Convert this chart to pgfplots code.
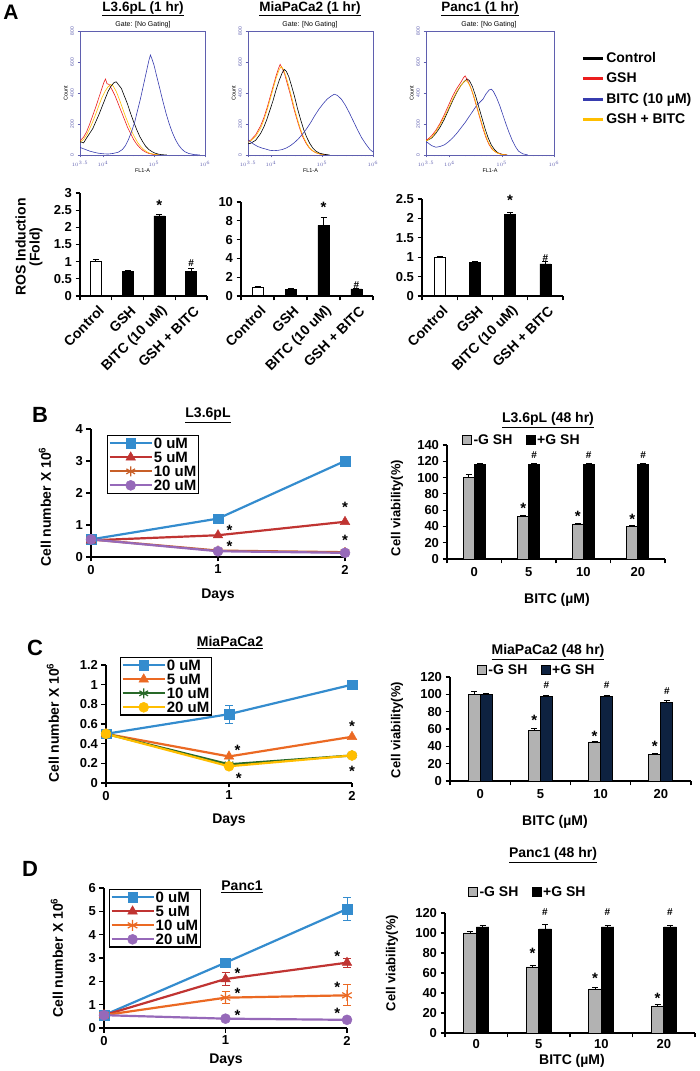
\documentclass[border=0pt]{standalone}
\usepackage{fontspec}
\setmainfont{Liberation Sans}
\usepackage{pgfplots}
\pgfplotsset{compat=1.18}

\definecolor{cblue}{RGB}{52,140,206}
\definecolor{cred}{RGB}{192,52,50}
\definecolor{corgB}{RGB}{200,95,40}
\definecolor{cpurp}{RGB}{150,105,185}
\definecolor{corgC}{RGB}{235,105,35}
\definecolor{cgreen}{RGB}{40,105,40}
\definecolor{cyel}{RGB}{255,190,0}
\definecolor{hblue}{RGB}{55,60,175}
\definecolor{hframe}{RGB}{95,95,175}
\definecolor{hred}{RGB}{235,30,30}
\definecolor{hyel}{RGB}{255,190,0}
\definecolor{navy}{RGB}{14,34,64}
\definecolor{lgray}{RGB}{178,178,178}

\newcommand{\fs}[1]{\fontsize{#1}{#1}\selectfont\bfseries}

\tikzset{
  sig/.style={font=\fs{15}, inner sep=0pt, yshift=-3pt},
  hsh/.style={font=\fs{10}, inner sep=0pt},
}

\pgfplotsset{
  exl/.style={scale only axis, anchor=south west, clip=false,
    axis x line*=bottom, axis y line*=left,
    axis line style={line width=1.6pt, black},
    tick style={black, line width=1.2pt},
    major tick length=4.5pt, tick align=outside,
    /pgf/number format/assume math mode=true,
    ticklabel style={font=\fs{13}}},
  catax/.style={exl, ybar, xmin=-0.5, xmax=3.5, xtick={-0.5,0.5,1.5,2.5,3.5}, xticklabels={},
    extra x ticks={0,1,2,3}, extra x tick style={major tick length=0pt}},
  errs/.style={/pgfplots/error bars/y dir=plus, /pgfplots/error bars/y explicit,
    /pgfplots/error bars/error bar style={line width=1pt, black},
    /pgfplots/error bars/error mark options={rotate=90, mark size=3pt, line width=1pt, black}},
  lerr/.style={/pgfplots/error bars/y dir=both, /pgfplots/error bars/y explicit,
    /pgfplots/error bars/error bar style={line width=1pt, draw=#1},
    /pgfplots/error bars/error mark options={rotate=90, mark size=4pt, line width=1pt, draw=#1}},
  lineleg/.style={legend image code/.code={\draw[mark repeat=2,mark phase=2,##1] plot coordinates {(0pt,0pt) (21pt,0pt) (42pt,0pt)};}},
  sqleg/.style={legend image code/.code={\draw[##1,line width=0.8pt] (0pt,-4.5pt) rectangle (9pt,4.5pt);}},
  hleg/.style={legend image code/.code={\draw[##1,line width=2.8pt] (0pt,0pt) -- (20pt,0pt);}},
  lstyle/.style={legend cell align=left, legend style={anchor=north west, draw=black, line width=1.2pt,
    font=\fs{15}, inner sep=1pt, row sep=0.5pt, nodes={inner sep=1pt, text height=10.5pt, text depth=1pt}}},
  bstyle/.style={legend columns=2, legend style={anchor=west, draw=none, fill=none, font=\fs{14},
    inner sep=0pt, nodes={inner sep=1.5pt}, /tikz/every even column/.append style={column sep=12pt}}},
  histax/.style={scale only axis, anchor=south west, height=124pt, xmin=3.55, xmax=6, ymin=0, ymax=800,
    axis line style={draw=hframe, line width=0.8pt}, tick style={draw=hframe, line width=0.5pt},
    major tick length=2.5pt, minor tick length=1.5pt, tick align=outside, tick pos=left,
    ytick={0,200,400,600,800}, yticklabel style={rotate=90, font=\fontsize{5}{5}\selectfont, text=hframe},
    xtick={3.55,4,5,6}, xticklabels={$10^{3.5}$,$10^{4}$,$10^{5}$,$10^{6}$},
    xticklabel style={font=\fontsize{5}{5}\selectfont, text=hframe},
    minor xtick={3.602,3.699,3.778,3.845,3.903,3.954,4.301,4.477,4.602,4.699,4.778,4.845,4.903,4.954,5.301,5.477,5.602,5.699,5.778,5.845,5.903,5.954},
    /pgf/number format/assume math mode=true,
    xlabel={FL1-A}, ylabel={Count}, label style={font=\fontsize{5.5}{5.5}\selectfont},
    xlabel style={yshift=4pt}, ylabel style={yshift=-4pt},
    every axis plot/.append style={line width=0.6pt}},
}

\begin{document}
\begin{tikzpicture}
\useasboundingbox (0pt,0pt) rectangle (700pt,1071pt);

% ================= PANEL A: histograms =================
\node[font=\fs{21}] at (11pt,1059pt) {A};
\node[font=\fs{13.5}] at (143pt,1062pt) {\underline{L3.6pL (1 hr)}};
\node[font=\fs{13.5}] at (310pt,1062pt) {\underline{MiaPaCa2 (1 hr)}};
\node[font=\fs{13.5}] at (480pt,1062pt) {\underline{Panc1 (1 hr)}};
\node[font=\fontsize{7}{7}\selectfont] at (143pt,1046pt) {Gate: [No Gating]};
\node[font=\fontsize{7}{7}\selectfont] at (310pt,1046pt) {Gate: [No Gating]};
\node[font=\fontsize{7}{7}\selectfont] at (489pt,1046pt) {Gate: [No Gating]};

\begin{axis}[histax, at={(80pt,916pt)}, width=125pt]
\addplot[hred] coordinates {(3.5,80)(3.56,95)(3.62,115)(3.68,150)(3.74,200)(3.8,255)(3.86,310)(3.92,370)(3.98,430)(4.02,470)(4.05,490)(4.08,460)(4.12,455)(4.18,420)(4.24,380)(4.3,330)(4.36,280)(4.42,230)(4.48,180)(4.54,140)(4.6,100)(4.66,70)(4.72,48)(4.78,30)(4.84,18)(4.9,10)(4.98,4)(5.1,0)};
\addplot[hyel] coordinates {(3.5,75)(3.56,85)(3.62,100)(3.68,130)(3.74,170)(3.8,215)(3.86,265)(3.92,320)(3.98,370)(4.04,410)(4.1,440)(4.15,455)(4.2,445)(4.26,410)(4.32,360)(4.38,305)(4.44,250)(4.5,200)(4.56,155)(4.62,115)(4.68,80)(4.74,55)(4.8,35)(4.86,20)(4.92,11)(5.0,5)(5.1,0)};
\addplot[black] coordinates {(3.5,70)(3.56,85)(3.62,78)(3.68,110)(3.74,140)(3.8,170)(3.86,215)(3.92,260)(3.98,310)(4.04,360)(4.1,410)(4.16,445)(4.22,468)(4.26,472)(4.3,455)(4.36,430)(4.42,380)(4.48,330)(4.54,270)(4.6,215)(4.66,165)(4.72,120)(4.78,85)(4.84,55)(4.9,35)(4.96,22)(5.02,12)(5.08,6)(5.15,2)(5.25,0)};
\addplot[hblue] coordinates {(3.5,60)(3.58,45)(3.66,35)(3.74,25)(3.82,18)(3.9,12)(4.0,8)(4.1,6)(4.2,10)(4.3,18)(4.38,35)(4.44,60)(4.5,100)(4.56,150)(4.62,210)(4.68,290)(4.74,370)(4.8,460)(4.86,550)(4.9,610)(4.93,645)(4.96,620)(5.0,580)(5.06,500)(5.12,420)(5.18,340)(5.24,265)(5.3,200)(5.36,145)(5.42,100)(5.48,65)(5.54,40)(5.6,22)(5.68,10)(5.78,3)(5.9,0)};
\end{axis}

\begin{axis}[histax, at={(248pt,916pt)}, width=125pt]
\addplot[hred] coordinates {(3.5,85)(3.6,95)(3.7,130)(3.8,190)(3.86,240)(3.92,300)(3.98,370)(4.04,440)(4.1,510)(4.15,560)(4.18,585)(4.22,560)(4.27,520)(4.32,460)(4.38,390)(4.44,310)(4.5,240)(4.56,175)(4.62,120)(4.68,80)(4.74,50)(4.8,30)(4.88,14)(4.98,5)(5.1,0)};
\addplot[hyel] coordinates {(3.5,75)(3.6,90)(3.7,120)(3.8,175)(3.86,225)(3.92,285)(3.98,355)(4.04,425)(4.1,495)(4.16,550)(4.2,570)(4.24,555)(4.29,510)(4.34,455)(4.4,380)(4.46,300)(4.52,230)(4.58,165)(4.64,115)(4.7,75)(4.76,45)(4.84,22)(4.94,8)(5.05,0)};
\addplot[black] coordinates {(3.5,70)(3.6,75)(3.7,95)(3.8,140)(3.86,180)(3.92,230)(3.98,290)(4.04,350)(4.1,420)(4.16,480)(4.22,530)(4.26,552)(4.3,540)(4.35,505)(4.4,450)(4.46,380)(4.52,300)(4.58,230)(4.64,165)(4.7,115)(4.76,75)(4.82,45)(4.88,25)(4.95,12)(5.05,4)(5.15,0)};
\addplot[hblue] coordinates {(3.5,110)(3.58,90)(3.66,70)(3.74,55)(3.82,45)(3.9,38)(3.98,30)(4.06,28)(4.14,30)(4.22,35)(4.3,45)(4.38,60)(4.46,80)(4.54,105)(4.62,135)(4.7,170)(4.78,210)(4.86,255)(4.94,295)(5.02,330)(5.1,360)(5.18,380)(5.24,392)(5.3,385)(5.38,360)(5.46,320)(5.54,270)(5.62,215)(5.7,160)(5.78,110)(5.86,70)(5.94,35)(6.0,20)};
\end{axis}

\begin{axis}[histax, at={(426pt,916pt)}, width=128pt,
  legend style={at={(1.19,0.86)}, anchor=north west, draw=none, fill=none, font=\fs{14},
    row sep=5pt, nodes={inner sep=2pt}}, legend cell align=left]
\addplot[black, hleg] coordinates {(3.5,90)(3.58,95)(3.66,110)(3.74,140)(3.82,180)(3.9,230)(3.98,290)(4.06,350)(4.14,405)(4.22,450)(4.3,480)(4.34,490)(4.38,480)(4.44,440)(4.5,380)(4.56,310)(4.62,240)(4.68,170)(4.74,110)(4.8,65)(4.86,35)(4.92,15)(5.0,5)(5.1,0)};
\addlegendentry{Control}
\addplot[hred, hleg] coordinates {(3.5,95)(3.58,100)(3.66,125)(3.74,160)(3.82,205)(3.9,260)(3.98,320)(4.06,380)(4.14,430)(4.22,470)(4.27,500)(4.3,510)(4.34,485)(4.4,440)(4.46,380)(4.52,310)(4.58,240)(4.64,170)(4.7,110)(4.76,65)(4.82,35)(4.9,15)(5.0,4)(5.1,0)};
\addlegendentry{GSH}
\addplot[hblue, hleg] coordinates {(3.5,95)(3.58,80)(3.66,60)(3.74,50)(3.82,55)(3.9,65)(3.98,85)(4.06,110)(4.14,140)(4.22,175)(4.3,210)(4.38,250)(4.46,290)(4.52,320)(4.58,340)(4.64,360)(4.7,395)(4.76,420)(4.8,425)(4.84,410)(4.9,370)(4.96,320)(5.02,260)(5.08,200)(5.14,145)(5.2,95)(5.26,55)(5.32,25)(5.4,8)(5.5,0)};
\addlegendentry{BITC (10 µM)}
\addplot[hyel, hleg] coordinates {(3.5,85)(3.58,95)(3.66,115)(3.74,150)(3.82,195)(3.9,245)(3.98,300)(4.06,360)(4.14,410)(4.22,450)(4.28,475)(4.32,480)(4.36,465)(4.42,425)(4.48,365)(4.54,295)(4.6,225)(4.66,160)(4.72,100)(4.78,60)(4.84,30)(4.92,12)(5.0,3)(5.1,0)};
\addlegendentry{GSH + BITC}
\end{axis}

% ================= PANEL A: bar charts =================
\node[font=\fs{14}, rotate=90, align=center] at (29pt,824pt) {ROS Induction\\(Fold)};

\begin{axis}[catax, at={(80pt,775pt)}, width=127pt, height=103pt, ymin=0, ymax=3, ytick={0,0.5,...,3},
  bar width=11pt, extra x tick labels={Control,GSH,BITC (10 uM),GSH + BITC},
  extra x tick style={xticklabel style={xshift=8pt, yshift=-10pt, rotate=45, anchor=east, font=\fs{14}}}]
\addplot[bar shift=0pt, fill=white, draw=black, line width=1pt, errs] coordinates {(0,1.0)+-(0,0.05)};
\addplot[bar shift=0pt, fill=black, draw=black, errs] coordinates {(1,0.72)+-(0,0.02) (2,2.33)+-(0,0.05) (3,0.72)+-(0,0.07)};
\node[sig] at (axis cs:2,2.74) {*};
\node[hsh] at (axis cs:3,0.95) {\#};
\end{axis}

\begin{axis}[catax, at={(241pt,775pt)}, width=132pt, height=94pt, ymin=0, ymax=10, ytick={0,2,...,10},
  bar width=11pt, extra x tick labels={Control,GSH,BITC (10 uM),GSH + BITC},
  extra x tick style={xticklabel style={xshift=8pt, yshift=-10pt, rotate=45, anchor=east, font=\fs{14}}}]
\addplot[bar shift=0pt, fill=white, draw=black, line width=1pt, errs] coordinates {(0,0.95)+-(0,0.05)};
\addplot[bar shift=0pt, fill=black, draw=black, errs] coordinates {(1,0.72)+-(0,0.05) (2,7.5)+-(0,0.9) (3,0.75)+-(0,0.1)};
\node[sig] at (axis cs:2,9.8) {*};
\node[hsh] at (axis cs:3,1.2) {\#};
\end{axis}

\begin{axis}[catax, at={(422pt,775pt)}, width=141pt, height=97pt, ymin=0, ymax=2.5, ytick={0,0.5,...,2.5},
  bar width=11pt, extra x tick labels={Control,GSH,BITC (10 uM),GSH + BITC},
  extra x tick style={xticklabel style={xshift=8pt, yshift=-10pt, rotate=45, anchor=east, font=\fs{14}}}]
\addplot[bar shift=0pt, fill=white, draw=black, line width=1pt, errs] coordinates {(0,1.0)+-(0,0.03)};
\addplot[bar shift=0pt, fill=black, draw=black, errs] coordinates {(1,0.87)+-(0,0.02) (2,2.1)+-(0,0.05) (3,0.83)+-(0,0.05)};
\node[sig] at (axis cs:2,2.55) {*};
\node[hsh] at (axis cs:3,0.97) {\#};
\end{axis}

% ================= PANEL B =================
\node[font=\fs{22}] at (40pt,656pt) {B};
\node[font=\fs{14}] at (208pt,656pt) {\underline{L3.6pL}};
\node[font=\fs{14}, rotate=90] at (45pt,564pt) {Cell number X 10\textsuperscript{6}};
\node[font=\fs{14}] at (218pt,476pt) {Days};

\begin{axis}[exl, lstyle, at={(91pt,514pt)}, width=254pt, height=128pt, xmin=0, xmax=2, ymin=0, ymax=4,
  xtick={0,1,2}, ytick={0,1,2,3,4}, legend style={at={(0.063,0.953)}}]
\addplot[cblue, line width=2.2pt, mark=square*, mark size=4.8pt, mark options={line width=0.5pt}, lineleg] coordinates {(0,0.55)(1,1.2)(2,3.0)};
\addlegendentry{0 uM}
\addplot[forget plot, draw=none, lerr=cblue] coordinates {(2,3.0)+-(0,0.12)};
\addplot[cred, line width=2.2pt, mark=triangle*, mark size=5.5pt, mark options={line width=0.5pt}, lineleg] coordinates {(0,0.52)(1,0.68)(2,1.1)};
\addlegendentry{5 uM}
\addplot[corgB, line width=2.2pt, mark=asterisk, mark size=5pt, mark options={line width=1.2pt}, lineleg] coordinates {(0,0.55)(1,0.2)(2,0.15)};
\addlegendentry{10 uM}
\addplot[cpurp, line width=2.2pt, mark=*, mark size=5pt, mark options={line width=0.5pt}, lineleg] coordinates {(0,0.55)(1,0.18)(2,0.13)};
\addlegendentry{20 uM}
\node[sig] at (axis cs:1.09,0.94) {*};
\node[sig] at (axis cs:1.09,0.44) {*};
\node[sig] at (axis cs:2.0,1.63) {*};
\node[sig] at (axis cs:2.0,0.6) {*};
\end{axis}

\node[font=\fs{14}] at (548pt,651pt) {\underline{L3.6pL (48 hr)}};
\node[font=\fs{13}, rotate=90] at (397pt,563pt) {Cell viability(\%)};
\node[font=\fs{14}] at (557pt,471pt) {BITC (µM)};

\begin{axis}[catax, bstyle, at={(447pt,512pt)}, width=218pt, height=114pt, ymin=0, ymax=140, ytick={0,20,...,140},
  bar width=11pt, extra x tick labels={0,5,10,20}, extra x tick style={xticklabel style={yshift=-5pt}},
  legend style={at={(0.069,1.044)}}]
\addplot[bar shift=-5.5pt, fill=lgray, draw=black, line width=0.8pt, sqleg, errs] coordinates {(0,100)+-(0,4) (1,52)+-(0,1.5) (2,43)+-(0,1) (3,40)+-(0,1)};
\addlegendentry{-G SH}
\addplot[bar shift=5.5pt, fill=black, draw=black, line width=0.8pt, sqleg, errs] coordinates {(0,116)+-(0,1) (1,116)+-(0,1) (2,116)+-(0,1) (3,116)+-(0,1)};
\addlegendentry{+G SH}
\node[sig] at (axis cs:0.9,66) {*};
\node[sig] at (axis cs:1.9,56) {*};
\node[sig] at (axis cs:2.9,52) {*};
\node[hsh] at (axis cs:1.1,127) {\#};
\node[hsh] at (axis cs:2.1,127) {\#};
\node[hsh] at (axis cs:3.1,127) {\#};
\end{axis}

% ================= PANEL C =================
\node[font=\fs{22}] at (35pt,423pt) {C};
\node[font=\fs{14}] at (230pt,428pt) {\underline{MiaPaCa2}};
\node[font=\fs{14}, rotate=90] at (53pt,348pt) {Cell number X 10\textsuperscript{6}};
\node[font=\fs{14}] at (229pt,251pt) {Days};

\begin{axis}[exl, lstyle, at={(106pt,288pt)}, width=246pt, height=118pt, xmin=0, xmax=2, ymin=0, ymax=1.2,
  xtick={0,1,2}, ytick={0,0.2,...,1.2}, legend style={at={(0.057,1.068)}}]
\addplot[cblue, line width=2.2pt, mark=square*, mark size=4.8pt, mark options={line width=0.5pt}, lineleg] coordinates {(0,0.5)(1,0.7)(2,1.0)};
\addlegendentry{0 uM}
\addplot[forget plot, draw=none, lerr=cblue] coordinates {(1,0.7)+-(0,0.09) (2,1.0)+-(0,0.03)};
\addplot[corgC, line width=2.2pt, mark=triangle*, mark size=5.5pt, mark options={line width=0.5pt}, lineleg] coordinates {(0,0.5)(1,0.27)(2,0.47)};
\addlegendentry{5 uM}
\addplot[cgreen, line width=2.2pt, mark=asterisk, mark size=5pt, mark options={line width=1.2pt}, lineleg] coordinates {(0,0.5)(1,0.19)(2,0.28)};
\addlegendentry{10 uM}
\addplot[cyel, line width=2.2pt, mark=*, mark size=5pt, mark options={line width=0.5pt}, lineleg] coordinates {(0,0.5)(1,0.17)(2,0.28)};
\addlegendentry{20 uM}
\node[sig] at (axis cs:1.07,0.36) {*};
\node[sig] at (axis cs:1.08,0.08) {*};
\node[sig] at (axis cs:2.0,0.61) {*};
\node[sig] at (axis cs:2.0,0.15) {*};
\end{axis}

\node[font=\fs{14}] at (548pt,419pt) {\underline{MiaPaCa2 (48 hr)}};
\node[font=\fs{13}, rotate=90] at (397pt,341pt) {Cell viability(\%)};
\node[font=\fs{14}] at (555pt,249pt) {BITC (µM)};

\begin{axis}[catax, bstyle, at={(450pt,290pt)}, width=241pt, height=104pt, ymin=0, ymax=120, ytick={0,20,...,120},
  bar width=12pt, extra x tick labels={0,5,10,20}, extra x tick style={xticklabel style={yshift=-5pt}},
  legend style={at={(0.112,1.067)}}]
\addplot[bar shift=-6pt, fill=lgray, draw=black, line width=0.8pt, sqleg, errs] coordinates {(0,100)+-(0,3) (1,58)+-(0,3) (2,45)+-(0,1) (3,31)+-(0,1)};
\addlegendentry{-G SH}
\addplot[bar shift=6pt, fill=navy, draw=black, line width=0.8pt, sqleg, errs] coordinates {(0,100)+-(0,1.5) (1,98)+-(0,1) (2,98)+-(0,1) (3,91)+-(0,1.5)};
\addlegendentry{+G SH}
\node[sig] at (axis cs:0.9,73) {*};
\node[sig] at (axis cs:1.9,55) {*};
\node[sig] at (axis cs:2.9,44) {*};
\node[hsh] at (axis cs:1.1,111) {\#};
\node[hsh] at (axis cs:2.1,111) {\#};
\node[hsh] at (axis cs:3.1,104) {\#};
\end{axis}

% ================= PANEL D =================
\node[font=\fs{22}] at (30pt,202pt) {D};
\node[font=\fs{14}] at (242pt,184pt) {\underline{Panc1}};
\node[font=\fs{14}, rotate=90] at (57pt,113pt) {Cell number X 10\textsuperscript{6}};
\node[font=\fs{14}] at (226pt,11pt) {Days};

\begin{axis}[exl, lstyle, at={(104pt,43pt)}, width=243pt, height=140pt, xmin=0, xmax=2, ymin=0, ymax=6,
  xtick={0,1,2}, ytick={0,1,...,6}, legend style={at={(0.02,0.993)}}]
\addplot[cblue, line width=2.2pt, mark=square*, mark size=4.8pt, mark options={line width=0.5pt}, lineleg] coordinates {(0,0.55)(1,2.8)(2,5.1)};
\addlegendentry{0 uM}
\addplot[forget plot, draw=none, lerr=cblue] coordinates {(1,2.8)+-(0,0.1) (2,5.1)+-(0,0.5)};
\addplot[cred, line width=2.2pt, mark=triangle*, mark size=5.5pt, mark options={line width=0.5pt}, lineleg] coordinates {(0,0.55)(1,2.1)(2,2.8)};
\addlegendentry{5 uM}
\addplot[forget plot, draw=none, lerr=cred] coordinates {(1,2.1)+-(0,0.28) (2,2.8)+-(0,0.2)};
\addplot[corgC, line width=2.2pt, mark=asterisk, mark size=5.5pt, mark options={line width=1.2pt}, lineleg] coordinates {(0,0.55)(1,1.3)(2,1.4)};
\addlegendentry{10 uM}
\addplot[forget plot, draw=none, lerr=corgC] coordinates {(1,1.3)+-(0,0.25) (2,1.4)+-(0,0.45)};
\addplot[cpurp, line width=2.2pt, mark=*, mark size=5pt, mark options={line width=0.5pt}, lineleg] coordinates {(0,0.55)(1,0.4)(2,0.35)};
\addlegendentry{20 uM}
\node[sig] at (axis cs:1.1,2.49) {*};
\node[sig] at (axis cs:1.1,1.63) {*};
\node[sig] at (axis cs:1.1,0.69) {*};
\node[sig] at (axis cs:1.92,3.2) {*};
\node[sig] at (axis cs:1.92,1.85) {*};
\node[sig] at (axis cs:1.92,0.77) {*};
\end{axis}

\node[font=\fs{14}] at (553pt,216pt) {\underline{Panc1 (48 hr)}};
\node[font=\fs{13}, rotate=90] at (392pt,108pt) {Cell viability(\%)};
\node[font=\fs{14}] at (572pt,10pt) {BITC (µM)};

\begin{axis}[catax, bstyle, at={(445pt,38pt)}, width=250pt, height=120pt, ymin=0, ymax=120, ytick={0,20,...,120},
  bar width=12.5pt, extra x tick labels={0,5,10,20}, extra x tick style={xticklabel style={yshift=-3pt}},
  legend style={at={(0.092,1.175)}}]
\addplot[bar shift=-6.25pt, fill=lgray, draw=black, line width=0.8pt, sqleg, errs] coordinates {(0,100)+-(0,1) (1,66)+-(0,1.5) (2,44)+-(0,1.5) (3,27)+-(0,1.5)};
\addlegendentry{-G SH}
\addplot[bar shift=6.25pt, fill=black, draw=black, line width=0.8pt, sqleg, errs] coordinates {(0,106)+-(0,1.5) (1,104)+-(0,4) (2,106)+-(0,1) (3,106)+-(0,1)};
\addlegendentry{+G SH}
\node[sig] at (axis cs:0.9,83) {*};
\node[sig] at (axis cs:1.9,58) {*};
\node[sig] at (axis cs:2.9,38) {*};
\node[hsh] at (axis cs:1.1,121) {\#};
\node[hsh] at (axis cs:2.1,121) {\#};
\node[hsh] at (axis cs:3.1,121) {\#};
\end{axis}

\end{tikzpicture}
\end{document}
